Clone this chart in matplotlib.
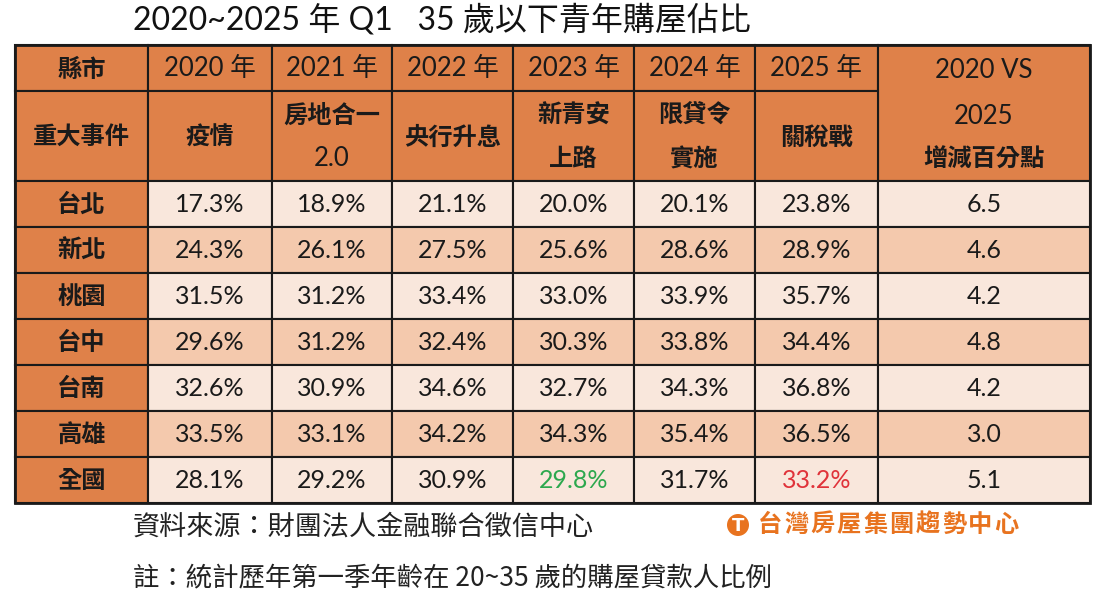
import matplotlib.pyplot as plt
from matplotlib.patches import Rectangle, Circle

plt.rcParams['font.family'] = ['Lato', 'Noto Sans CJK TC', 'DejaVu Sans']

# ---- data ----
title = '2020~2025 年 Q1   35 歲以下青年購屋佔比'
year_labels = ['2020 年', '2021 年', '2022 年', '2023 年', '2024 年', '2025 年']
events = [['疫情'], ['房地合一', '2.0'], ['央行升息'], ['新青安', '上路'], ['限貸令', '實施'], ['關稅戰']]
diff_header = ['2020 VS', '2025', '增減百分點']
cities = ['台北', '新北', '桃園', '台中', '台南', '高雄', '全國']
shares = [
    [17.3, 18.9, 21.1, 20.0, 20.1, 23.8],
    [24.3, 26.1, 27.5, 25.6, 28.6, 28.9],
    [31.5, 31.2, 33.4, 33.0, 33.9, 35.7],
    [29.6, 31.2, 32.4, 30.3, 33.8, 34.4],
    [32.6, 30.9, 34.6, 32.7, 34.3, 36.8],
    [33.5, 33.1, 34.2, 34.3, 35.4, 36.5],
    [28.1, 29.2, 30.9, 29.8, 31.7, 33.2],
]
diffs = [6.5, 4.6, 4.2, 4.8, 4.2, 3.0, 5.1]
source = '資料來源：財團法人金融聯合徵信中心'
note = '註：統計歷年第一季年齡在 20~35 歲的購屋貸款人比例'
logo = '台灣房屋集團趨勢中心'

# ---- style ----
orange = '#DF8149'
light = '#F9E7DC'
dark = '#F4C9AD'
green = '#2DA84E'
red = '#E0333A'
col_w = [133, 124, 120, 121, 121, 121, 123, 212]
x0, y0 = 15, 45
h1, h2, rh = 46, 90, 46

fig = plt.figure(figsize=(11.01, 6.10), dpi=100)
ax = fig.add_axes([0, 0, 1, 1])
ax.set_xlim(0, 1101)
ax.set_ylim(610, 0)
ax.axis('off')

xs = [x0]
for w in col_w:
    xs.append(xs[-1] + w)

def cell(x, y, w, h, fc):
    ax.add_patch(Rectangle((x, y), w, h, facecolor=fc, edgecolor='#1a1a1a', lw=1.5))

hdr = dict(fontsize=18.5, color='#1a1a1a')
hdr_b = dict(fontsize=17.5, color='#1a1a1a', fontweight='bold')
num = dict(fontsize=18, color='#1a1a1a')

# header row 1
cell(xs[0], y0, col_w[0], h1, orange)
ax.text(xs[0] + col_w[0] / 2, y0 + h1 / 2 + 1, '縣市', ha='center', va='center', **hdr_b)
for j, lab in enumerate(year_labels):
    cell(xs[j + 1], y0, col_w[j + 1], h1, orange)
    ax.text(xs[j + 1] + col_w[j + 1] / 2, y0 + h1 / 2 + 1, lab, ha='center', va='center', **hdr)
# merged last header
cell(xs[7], y0, col_w[7], h1 + h2, orange)
for i, s in enumerate(diff_header):
    kw = hdr_b if i == 2 else hdr
    ax.text(xs[7] + col_w[7] / 2, [70, 116, 159][i], s, ha='center', va='center', **kw)

# header row 2
ytop = y0 + h1
cell(xs[0], ytop, col_w[0], h2, orange)
ax.text(xs[0] + col_w[0] / 2, ytop + h2 / 2, '重大事件', ha='center', va='center', **hdr_b)
for j, ev in enumerate(events):
    cell(xs[j + 1], ytop, col_w[j + 1], h2, orange)
    n = len(ev)
    for i, s in enumerate(ev):
        kw = hdr if s == '2.0' else hdr_b
        ax.text(xs[j + 1] + col_w[j + 1] / 2, ytop + h2 / 2 + 1 + (i - (n - 1) / 2) * 43, s,
                ha='center', va='center', **kw)

# data rows
ytop = y0 + h1 + h2
for r, city in enumerate(cities):
    y = ytop + r * rh
    fc = light if r % 2 == 0 else dark
    cell(xs[0], y, col_w[0], rh, orange)
    ax.text(xs[0] + col_w[0] / 2, y + rh / 2, city, ha='center', va='center', **hdr_b)
    for j, v in enumerate(shares[r]):
        cell(xs[j + 1], y, col_w[j + 1], rh, fc)
        kw = dict(num)
        if city == '全國' and j == 3:
            kw['color'] = green
        if city == '全國' and j == 5:
            kw['color'] = red
        ax.text(xs[j + 1] + col_w[j + 1] / 2, y + rh / 2, f'{v:.1f}%', ha='center', va='center', **kw)
    cell(xs[7], y, col_w[7], rh, fc)
    ax.text(xs[7] + col_w[7] / 2, y + rh / 2, f'{diffs[r]:.1f}', ha='center', va='center', **num)

# outer border
ax.add_patch(Rectangle((x0, y0), sum(col_w), h1 + h2 + rh * len(cities), fill=False,
                       edgecolor='#1a1a1a', lw=2))

# title and footnotes
ax.text(442, 20, title, ha='center', va='center', fontsize=23, color='#111111')
ax.text(133, 527, source, ha='left', va='center', fontsize=19.5, color='#222222',
        family=['Noto Sans CJK TC'])
ax.text(133, 578, note, ha='left', va='center', fontsize=19, color='#222222',
        family=['Noto Sans CJK TC', 'Lato'])

# logo
ax.add_patch(Circle((738, 525), 11, facecolor='#E8731F', edgecolor='none'))
ax.text(738, 526, 'T', ha='center', va='center', fontsize=13, color='white', fontweight='bold',
        family=['DejaVu Sans'])
for k, ch in enumerate(logo):
    ax.text(770 + k * 26.3, 525, ch, ha='center', va='center', fontsize=17.5, fontweight='heavy',
            color='#E8731F', family=['Noto Sans CJK TC'])

fig.savefig('out.png', dpi=100)
